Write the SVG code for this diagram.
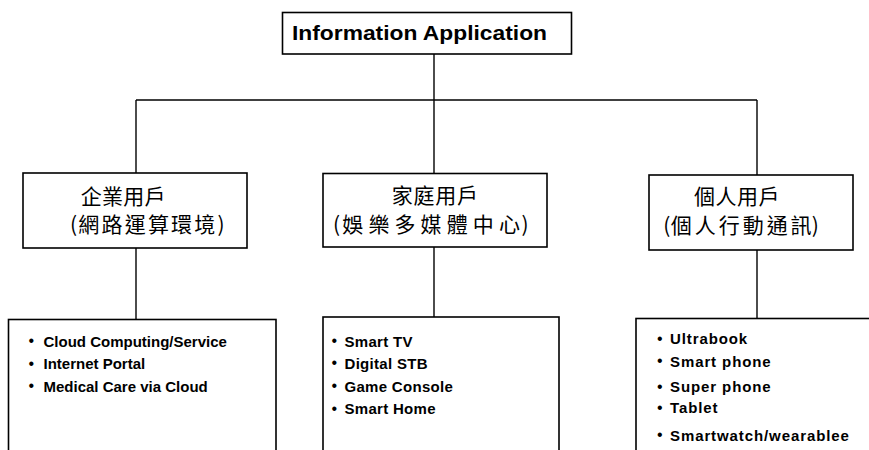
<svg xmlns="http://www.w3.org/2000/svg" width="869" height="450" viewBox="0 0 869 450">
<style>
.box{fill:#fff;stroke:#000;stroke-width:1.6}
.ln{stroke:#000;stroke-width:1.4;fill:none}
.title{font-family:"Liberation Sans",Arial,sans-serif;font-weight:bold;font-size:20px;fill:#000}
.cjk{font-family:"Noto Sans CJK TC","Noto Sans CJK SC",sans-serif;font-size:21px;fill:#000}
.item{font-family:"Liberation Sans",Arial,sans-serif;font-weight:bold;font-size:15px;fill:#000}
.bul{font-family:"Liberation Sans",Arial,sans-serif;font-size:16px;fill:#000}
</style>
<rect width="869" height="450" fill="#fff"/>
<g id="connectors">
<line class="ln" x1="434" y1="54" x2="434" y2="100"/>
<line class="ln" x1="136" y1="100" x2="757" y2="100"/>
<line class="ln" x1="136" y1="100" x2="136" y2="173"/>
<line class="ln" x1="434" y1="100" x2="434" y2="173"/>
<line class="ln" x1="757" y1="100" x2="757" y2="175"/>
<line class="ln" x1="136" y1="248" x2="136" y2="319"/>
<line class="ln" x1="434" y1="247" x2="434" y2="317"/>
<line class="ln" x1="757" y1="250" x2="757" y2="318"/>
</g>
<g id="root">
<rect class="box" x="282.5" y="12.5" width="289" height="41.5"/>
<text class="title" x="292" y="39.5" textLength="255" lengthAdjust="spacingAndGlyphs">Information Application</text>
</g>
<g id="enterprise">
<rect class="box" x="23" y="173" width="224" height="75"/>
<text class="cjk" x="80.7" y="203.5" letter-spacing="0.3">企業用戶</text>
<text class="cjk" y="232"><tspan x="70">(</tspan><tspan x="78.3" letter-spacing="2.2">網路運算環</tspan><tspan x="194.3">境</tspan><tspan x="217.5">)</tspan></text>
</g>
<g id="home">
<rect class="box" x="323" y="173.5" width="224" height="73.5"/>
<text class="cjk" x="391.7" y="202.5" letter-spacing="0.8">家庭用戶</text>
<text class="cjk" y="232"><tspan x="333">(</tspan><tspan x="342.3" letter-spacing="5.1">娛樂多媒體中</tspan><tspan x="498.9">心</tspan><tspan x="521.5">)</tspan></text>
</g>
<g id="personal">
<rect class="box" x="649" y="175" width="204" height="75"/>
<text class="cjk" x="694" y="204" letter-spacing="0.5">個人用戶</text>
<text class="cjk" y="233"><tspan x="663.3">(</tspan><tspan x="670.7" letter-spacing="3">個人行動通</tspan><tspan x="790.5">訊</tspan><tspan x="811.8">)</tspan></text>
</g>
<g id="enterprise-list">
<rect class="box" x="8.5" y="319.5" width="267.5" height="150"/>
<text class="bul" x="28.5" y="346">•</text>
<text class="item" x="43.5" y="346.5">Cloud Computing/Service</text>
<text class="bul" x="28.5" y="368.5">•</text>
<text class="item" x="43.5" y="369">Internet Portal</text>
<text class="bul" x="28.5" y="391">•</text>
<text class="item" x="43.5" y="391.5">Medical Care via Cloud</text>
</g>
<g id="home-list">
<rect class="box" x="323" y="317" width="236" height="150"/>
<text class="bul" x="331.5" y="346">•</text>
<text class="item" x="344.5" y="346.5" letter-spacing="0.3">Smart TV</text>
<text class="bul" x="331.5" y="368">•</text>
<text class="item" x="344.5" y="368.5" letter-spacing="0.3">Digital STB</text>
<text class="bul" x="331.5" y="391">•</text>
<text class="item" x="344.5" y="391.5" letter-spacing="0.3">Game Console</text>
<text class="bul" x="331.5" y="413.5">•</text>
<text class="item" x="344.5" y="414" letter-spacing="0.3">Smart Home</text>
</g>
<g id="personal-list">
<rect class="box" x="636" y="318.5" width="260" height="150"/>
<text class="bul" x="657" y="343.5">•</text>
<text class="item" x="670" y="344" letter-spacing="0.9">Ultrabook</text>
<text class="bul" x="657" y="366">•</text>
<text class="item" x="670" y="366.5" letter-spacing="0.9">Smart phone</text>
<text class="bul" x="657" y="391.5">•</text>
<text class="item" x="670" y="392" letter-spacing="0.9">Super phone</text>
<text class="bul" x="657" y="412.5">•</text>
<text class="item" x="670" y="413" letter-spacing="0.9">Tablet</text>
<text class="bul" x="657" y="440">•</text>
<text class="item" x="670" y="440.5" letter-spacing="0.9">Smartwatch/wearablee</text>
</g>
</svg>
